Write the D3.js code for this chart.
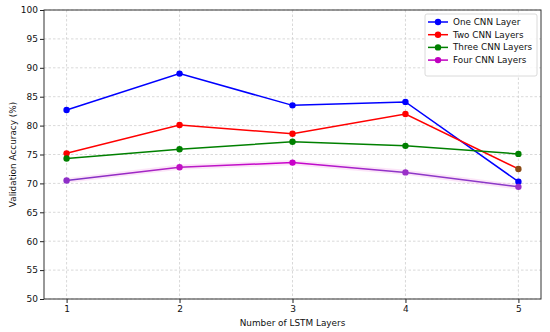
<!DOCTYPE html>
<html>
<head>
<meta charset="utf-8">
<script src="https://cdn.jsdelivr.net/npm/d3@7"></script>
<style>
  body { margin: 0; background: #fff; }
  text { font-family: "DejaVu Sans", sans-serif; fill: #111; }
</style>
</head>
<body>
<div id="vis"></div>
<script>
const lstmLayers = [1, 2, 3, 4, 5];
const oneCnn = [82.7, 89.0, 83.5, 84.1, 70.3];
const twoCnn = [75.2, 80.1, 78.6, 82.0, 72.5];
const threeCnn = [74.3, 75.9, 77.2, 76.5, 75.1];
const fourCnn = [70.5, 72.8, 73.6, 71.9, 69.4];
const seriesNames = ["One CNN Layer", "Two CNN Layers", "Three CNN Layers", "Four CNN Layers"];
const yTicks = [50, 55, 60, 65, 70, 75, 80, 85, 90, 95, 100];

const width = 550, height = 332;
const margin = { top: 10, right: 9, bottom: 33, left: 44 };

const svg = d3.select("#vis").append("svg")
  .attr("width", width).attr("height", height);

const x = d3.scaleLinear().domain([0.8, 5.2]).range([margin.left, width - margin.right]);
const y = d3.scaleLinear().domain([50, 100]).range([height - margin.bottom, margin.top]);

// grid
svg.append("g").selectAll("line").data(yTicks).enter().append("line")
  .attr("x1", margin.left).attr("x2", width - margin.right)
  .attr("y1", d => y(d)).attr("y2", d => y(d))
  .attr("stroke", "#cfcfcf").attr("stroke-width", 0.8).attr("stroke-dasharray", "2.5,2");
svg.append("g").selectAll("line").data(lstmLayers).enter().append("line")
  .attr("x1", d => x(d)).attr("x2", d => x(d))
  .attr("y1", margin.top).attr("y2", height - margin.bottom)
  .attr("stroke", "#cfcfcf").attr("stroke-width", 0.8).attr("stroke-dasharray", "2.5,2");

// pink band around the four-layer series
const band = d3.area()
  .x((d, i) => x(lstmLayers[i]))
  .y0(d => y(d - 0.45))
  .y1(d => y(d + 0.45));
svg.append("path").datum(fourCnn).attr("d", band)
  .attr("fill", "#f9c6f0").attr("opacity", 0.45);

// gradient for the four-layer line (purple <-> magenta)
const defs = svg.append("defs");
const grad = defs.append("linearGradient").attr("id", "fourGrad")
  .attr("gradientUnits", "userSpaceOnUse")
  .attr("x1", x(1)).attr("x2", x(5)).attr("y1", 0).attr("y2", 0);
[[0, "#7a36c6"], [0.25, "#b61ec4"], [0.5, "#cc00cc"], [0.72, "#8e36c8"], [1, "#8a3ac8"]]
  .forEach(s => grad.append("stop").attr("offset", s[0]).attr("stop-color", s[1]));

const series = [
  { name: seriesNames[0], values: oneCnn, color: "#0000ff", marks: null },
  { name: seriesNames[1], values: twoCnn, color: "#ff0000", marks: [null, null, null, null, "#8b4a14"] },
  { name: seriesNames[2], values: threeCnn, color: "#008000", marks: null },
  { name: seriesNames[3], values: fourCnn, color: "url(#fourGrad)", legendColor: "#c000c0",
    marks: ["#8e2ec8", "#c010c4", "#c800c8", "#9a30c8", "#9a30c8"] }
];

const line = d3.line().x((d, i) => x(lstmLayers[i])).y(d => y(d));

series.forEach(s => {
  svg.append("path").datum(s.values).attr("d", line)
    .attr("fill", "none").attr("stroke", s.color).attr("stroke-width", 1.5);
});
series.forEach(s => {
  svg.append("g").selectAll("circle").data(s.values).enter().append("circle")
    .attr("cx", (d, i) => x(lstmLayers[i])).attr("cy", d => y(d)).attr("r", 3.2)
    .attr("fill", (d, i) => (s.marks && s.marks[i]) || s.color);
});

// axes
const yAxis = svg.append("g").attr("transform", `translate(${margin.left},0)`)
  .call(d3.axisLeft(y).tickValues(yTicks).tickSize(4).tickPadding(2));
const xAxis = svg.append("g").attr("transform", `translate(0,${height - margin.bottom})`)
  .call(d3.axisBottom(x).tickValues(lstmLayers).tickFormat(d3.format("d")).tickSize(4).tickPadding(3));
[yAxis, xAxis].forEach(a => {
  a.select(".domain").remove();
  a.selectAll("text").style("font-size", "9px").attr("fill", "#111");
  a.selectAll("line").attr("stroke", "#222");
});

// frame
svg.append("rect")
  .attr("x", margin.left).attr("y", margin.top)
  .attr("width", width - margin.left - margin.right)
  .attr("height", height - margin.top - margin.bottom)
  .attr("fill", "none").attr("stroke", "#333").attr("stroke-width", 1);

// axis titles
svg.append("text")
  .attr("x", (margin.left + width - margin.right) / 2).attr("y", 326)
  .attr("text-anchor", "middle").style("font-size", "8.9px")
  .text("Number of LSTM Layers");
svg.append("text")
  .attr("transform", `translate(16,${(margin.top + height - margin.bottom) / 2}) rotate(-90)`)
  .attr("text-anchor", "middle").style("font-size", "8.9px")
  .text("Validation Accuracy (%)");

// legend
const legend = svg.append("g").attr("transform", "translate(425,14)");
legend.append("rect").attr("width", 112).attr("height", 62).attr("rx", 2)
  .attr("fill", "#fff").attr("fill-opacity", 0.85).attr("stroke", "#d0d0d0").attr("stroke-width", 0.8);
series.forEach((s, i) => {
  const g = legend.append("g").attr("transform", `translate(0,${8 + i * 12.7})`);
  const c = s.legendColor || s.color;
  g.append("line").attr("x1", 3).attr("x2", 23).attr("stroke", c).attr("stroke-width", 1.5);
  g.append("circle").attr("cx", 13).attr("r", 3.2).attr("fill", c);
  g.append("text").attr("x", 28).attr("dy", "0.35em").style("font-size", "8.8px").text(s.name);
});
</script>
</body>
</html>
